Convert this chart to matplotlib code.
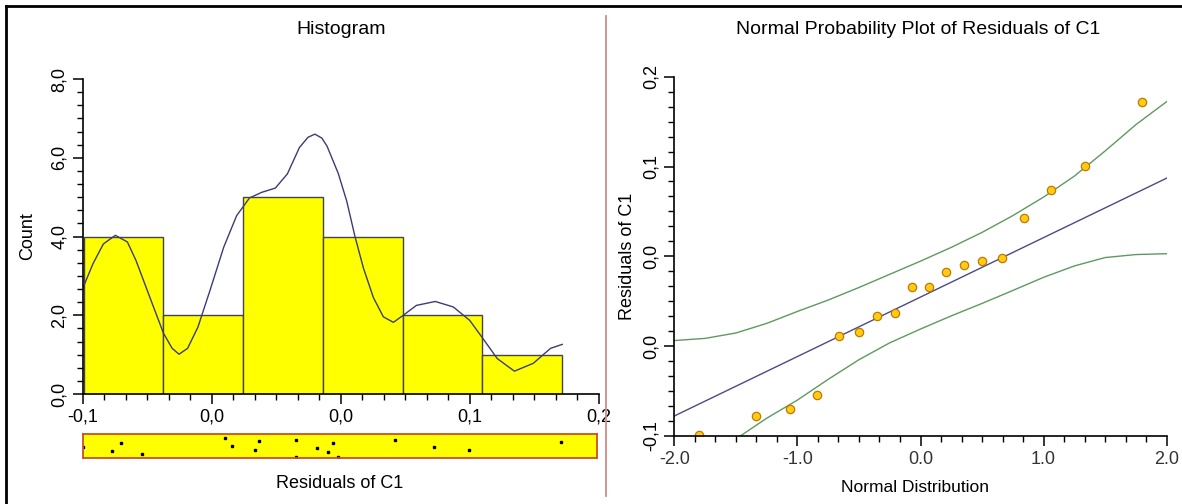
import numpy as np
import matplotlib.pyplot as plt
from matplotlib.lines import Line2D
from matplotlib.ticker import AutoMinorLocator

plt.rcParams['font.family'] = ['Liberation Sans', 'DejaVu Sans']

# residuals (sorted) and their normal scores
residuals = [-0.0995, -0.0829, -0.0777, -0.0655, -0.0168, -0.0132, 0.0004, 0.0027, 0.0245,
             0.0245, 0.0366, 0.0430, 0.0457, 0.0488, 0.0823, 0.1050, 0.1251, 0.1788]
normal_scores = [-1.80, -1.34, -1.06, -0.84, -0.66, -0.50, -0.35, -0.21, -0.07,
                 0.07, 0.21, 0.35, 0.50, 0.66, 0.84, 1.06, 1.34, 1.80]
# vertical jitter of the dot strip under the histogram (0 = bottom, 1 = top)
strip_jitter = [0.48, 0.32, 0.63, 0.19, 0.83, 0.53, 0.33, 0.73, 0.78,
                0.05, 0.42, 0.25, 0.63, 0.07, 0.76, 0.48, 0.36, 0.67]

# density curve drawn over the histogram (count scale)
kde_x = [-0.1, -0.094, -0.088, -0.081, -0.074, -0.069, -0.061, -0.053, -0.048, -0.044,
         -0.039, -0.033, -0.026, -0.018, -0.0105, -0.003, 0.004, 0.012, 0.019, 0.026,
         0.031, 0.035, 0.039, 0.042, 0.0486, 0.0535, 0.0583, 0.0632, 0.069, 0.0748,
         0.0806, 0.0864, 0.094, 0.105, 0.1155, 0.125, 0.132, 0.141, 0.151, 0.162,
         0.172, 0.1788]
kde_y = [2.68, 3.31, 3.81, 4.03, 3.86, 3.39, 2.46, 1.54, 1.16, 1.01,
         1.16, 1.70, 2.63, 3.73, 4.53, 4.98, 5.12, 5.23, 5.59, 6.26,
         6.52, 6.60, 6.50, 6.30, 5.60, 4.90, 4.00, 3.20, 2.45, 1.96,
         1.82, 2.00, 2.25, 2.35, 2.21, 1.87, 1.45, 0.90, 0.58, 0.78,
         1.16, 1.26]

# fitted line and confidence bands of the normal probability plot
fit_x = [-2.0, 2.0]
fit_y = [-0.0833, 0.1153]
upper_x = [-2.0, -1.75, -1.5, -1.25, -1.0, -0.75, -0.5, -0.25, 0.0,
           0.25, 0.5, 0.75, 1.0, 1.25, 1.5, 1.75, 2.0]
upper_y = [-0.0203, -0.0185, -0.0140, -0.0060, 0.0040, 0.0135, 0.0240, 0.0350, 0.0460,
           0.0575, 0.0700, 0.0840, 0.0995, 0.1170, 0.1380, 0.1600, 0.1792]
lower_x = [-1.5, -1.25, -1.0, -0.75, -0.5, -0.25, 0.0, 0.25, 0.5,
           0.75, 1.0, 1.25, 1.5, 1.75, 2.0]
lower_y = [-0.1025, -0.0852, -0.0700, -0.0527, -0.0363, -0.0222, -0.0107, 0.0003, 0.0107,
           0.0215, 0.0325, 0.0420, 0.0490, 0.0515, 0.0522]

hist_ticks = [-0.1, -0.025, 0.05, 0.125, 0.2]
hist_ticklabels = ['-0,1', '0,0', '0,0', '0,1', '0,2']
count_ticks = [0, 2, 4, 6, 8]
count_ticklabels = ['0,0', '2,0', '4,0', '6,0', '8,0']
npp_xticks = [-2, -1, 0, 1, 2]
npp_xticklabels = ['-2.0', '-1.0', '0.0', '1.0', '2.0']
npp_yticks = [-0.1, -0.025, 0.05, 0.125, 0.2]
npp_yticklabels = ['-0,1', '0,0', '0,0', '0,1', '0,2']

W, H = 1182, 504
fig = plt.figure(figsize=(W / 100, H / 100), dpi=100)

def box(x0, y0, x1, y1):
    # pixel box (top-left origin) -> figure fraction rect
    return [x0 / W, 1 - y1 / H, (x1 - x0) / W, (y1 - y0) / H]

def style_axis(ax):
    for s in ['top', 'right']:
        ax.spines[s].set_visible(False)
    for s in ['left', 'bottom']:
        ax.spines[s].set_linewidth(1.2)
    ax.tick_params(which='major', direction='out', length=7, width=1.1, labelsize=13)
    ax.tick_params(which='minor', direction='out', length=4, width=1)
    ax.xaxis.set_minor_locator(AutoMinorLocator(6))
    ax.yaxis.set_minor_locator(AutoMinorLocator(6))

# ---- histogram ----
ax1 = fig.add_axes(box(82.7, 79, 598.7, 394))
ax1.hist(residuals, bins=6, range=(min(residuals), max(residuals)),
         color='#ffff00', edgecolor='#44444f', linewidth=1)
ax1.plot(kde_x, kde_y, color='#3c3c70', lw=1, solid_joinstyle='round')
ax1.set_xlim(-0.1, 0.2)
ax1.set_ylim(0, 8)
ax1.set_xticks(hist_ticks)
ax1.set_xticklabels(hist_ticklabels)
ax1.set_yticks(count_ticks)
ax1.set_yticklabels(count_ticklabels, rotation=90, va='center')
style_axis(ax1)

# dot strip
axs = fig.add_axes(box(82.5, 434.3, 597.5, 458.3))
axs.set_facecolor('#ffff00')
axs.plot(residuals, strip_jitter, 's', color='black', ms=1.6)
axs.set_xlim(-0.1, 0.2)
axs.set_ylim(0, 1)
axs.set_xticks([])
axs.set_yticks([])
for s in axs.spines.values():
    s.set_color('#c8502a')
    s.set_linewidth(1.3)

fig.text(340.7 / W, 1 - 30 / H, 'Histogram', ha='center', va='center', fontsize=14)
fig.text(28 / W, 1 - 236 / H, 'Count', ha='center', va='center', rotation=90, fontsize=13)
fig.text(340 / W, 1 - 484 / H, 'Residuals of C1', ha='center', va='center', fontsize=13)

# ---- normal probability plot ----
ax2 = fig.add_axes(box(674.3, 76.7, 1166.7, 436))
ax2.plot(upper_x, upper_y, color='#5e9a5e', lw=1, solid_joinstyle='round')
ax2.plot(lower_x, lower_y, color='#5e9a5e', lw=1, solid_joinstyle='round')
ax2.plot(fit_x, fit_y, color='#4a4a88', lw=1)
ax2.plot(normal_scores, residuals, 'o', ms=6, mfc='#ffcc11', mec='#c07800', mew=0.9)
ax2.set_xlim(-2, 2)
ax2.set_ylim(-0.1, 0.2)
ax2.set_xticks(npp_xticks)
ax2.set_xticklabels(npp_xticklabels, color='#333333')
ax2.set_yticks(npp_yticks)
ax2.set_yticklabels(npp_yticklabels, rotation=90, va='center')
style_axis(ax2)

fig.text(918 / W, 1 - 30 / H, 'Normal Probability Plot of Residuals of C1',
         ha='center', va='center', fontsize=14)
fig.text(628 / W, 1 - 256 / H, 'Residuals of C1', ha='center', va='center',
         rotation=90, fontsize=13)
fig.text(915 / W, 1 - 488 / H, 'Normal Distribution', ha='center', va='center', fontsize=12.5)

# outer frame and divider
fig.add_artist(Line2D([6 / W, 1], [1 - 6 / H, 1 - 6 / H], color='black', lw=2))
fig.add_artist(Line2D([6 / W, 6 / W], [0, 1 - 6 / H], color='black', lw=2))
fig.add_artist(Line2D([606 / W, 606 / W], [1 - 16 / H, 1 - 496 / H], color='#d08a8a', lw=1.3))

fig.savefig('out.png', dpi=100)
